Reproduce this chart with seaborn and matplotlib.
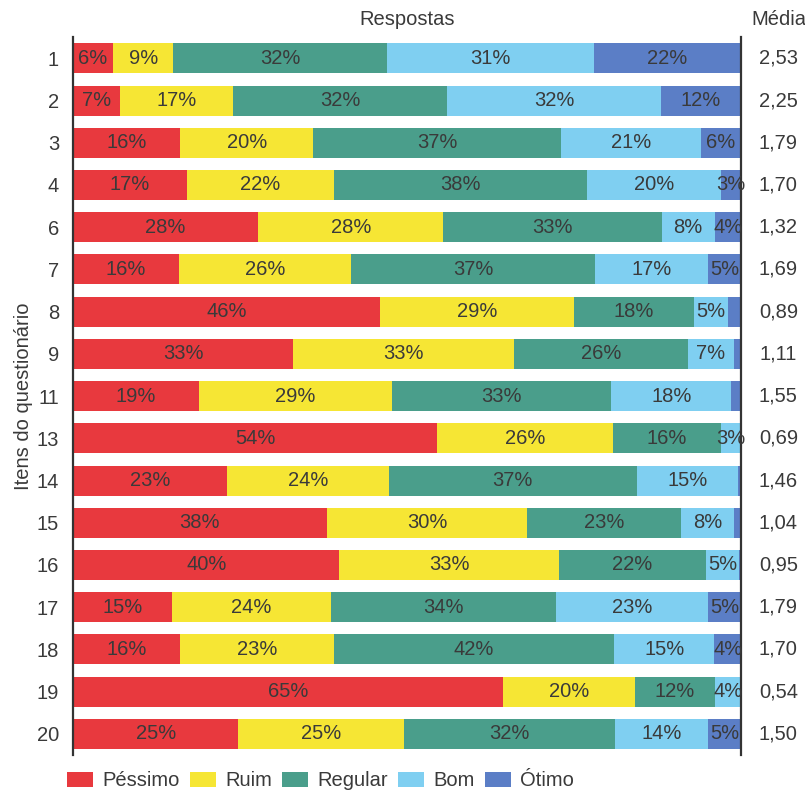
import matplotlib

matplotlib.use("Agg")
import matplotlib.pyplot as plt
import numpy as np
import pandas as pd
import seaborn as sns
from matplotlib.patches import Patch

items = ["1", "2", "3", "4", "6", "7", "8", "9", "11", "13", "14", "15", "16", "17", "18", "19", "20"]
pessimo = [6, 7, 16, 17, 28, 16, 46, 33, 19, 54, 23, 38, 40, 15, 16, 65, 25]
ruim = [9, 17, 20, 22, 28, 26, 29, 33, 29, 26, 24, 30, 33, 24, 23, 20, 25]
regular = [32, 32, 37, 38, 33, 37, 18, 26, 33, 16, 37, 23, 22, 34, 42, 12, 32]
bom = [31, 32, 21, 20, 8, 17, 5, 7, 18, 3, 15, 8, 5, 23, 15, 4, 14]
otimo = [22, 12, 6, 3, 4, 5, 2, 1, 1.5, 0, 0.5, 1, 0.3, 5, 4, 0, 5]
media = ["2,53", "2,25", "1,79", "1,70", "1,32", "1,69", "0,89", "1,11", "1,55", "0,69",
         "1,46", "1,04", "0,95", "1,79", "1,70", "0,54", "1,50"]

categories = ["Péssimo", "Ruim", "Regular", "Bom", "Ótimo"]
colors = ["#E8393E", "#F6E634", "#4A9E8B", "#7FCFF1", "#5B7EC6"]

df = pd.DataFrame({"item": items, "Péssimo": pessimo, "Ruim": ruim, "Regular": regular,
                   "Bom": bom, "Ótimo": otimo})
total = df[categories].sum(axis=1)
scaled = df[categories].div(total, axis=0) * 100
cum = scaled.cumsum(axis=1)

sns.set_theme(style="white")
plt.rcParams["font.family"] = ["Liberation Sans", "DejaVu Sans"]

fig = plt.figure(figsize=(8.05, 7.91), dpi=100)
ax = fig.add_axes([0.0907, 0.0455, 0.8298, 0.9075])

# stacked bars: draw cumulative totals from the widest down
for cat, col in reversed(list(zip(categories, colors))):
    plot_df = pd.DataFrame({"item": items, "value": cum[cat]})
    sns.barplot(data=plot_df, x="value", y="item", order=items, color=col,
                saturation=1, width=0.71, orient="h", ax=ax, edgecolor="none")

txt = "#3a3a3a"
fs = 14.5
for i in range(len(items)):
    for cat in categories:
        v = df.loc[i, cat]
        if v >= 3:
            center = cum.loc[i, cat] - scaled.loc[i, cat] / 2
            ax.text(center, i, f"{v:g}%", ha="center", va="center", fontsize=fs,
                    color=txt, clip_on=False)
    ax.text(105.6, i, media[i], ha="center", va="center", fontsize=fs, color=txt,
            clip_on=False)

ax.set_xlim(0, 100)
ax.set_ylim(len(items) - 0.5, -0.5)
ax.set_xticks([])
ax.set_xlabel("")
ax.set_ylabel("Itens do questionário", fontsize=fs, color=txt, labelpad=3)
ax.tick_params(axis="y", length=0, labelsize=fs, labelcolor=txt, pad=10)
for s in ["top", "bottom"]:
    ax.spines[s].set_visible(False)
for s in ["left", "right"]:
    ax.spines[s].set_color("#333333")
    ax.spines[s].set_linewidth(1.6)

ax.text(50, -0.93, "Respostas", ha="center", va="center", fontsize=fs, color=txt, clip_on=False)
ax.text(105.6, -0.93, "Média", ha="center", va="center", fontsize=fs, color=txt, clip_on=False)

handles = [Patch(facecolor=c, edgecolor="none", label=l) for l, c in zip(categories, colors)]
fig.legend(handles=handles, loc="lower left", bbox_to_anchor=(0.061, -0.022), ncol=5,
           frameon=False, fontsize=fs, handlelength=1.3, handleheight=0.75,
           handletextpad=0.45, columnspacing=0.5, labelcolor=txt)

fig.savefig("out.png", dpi=100)
